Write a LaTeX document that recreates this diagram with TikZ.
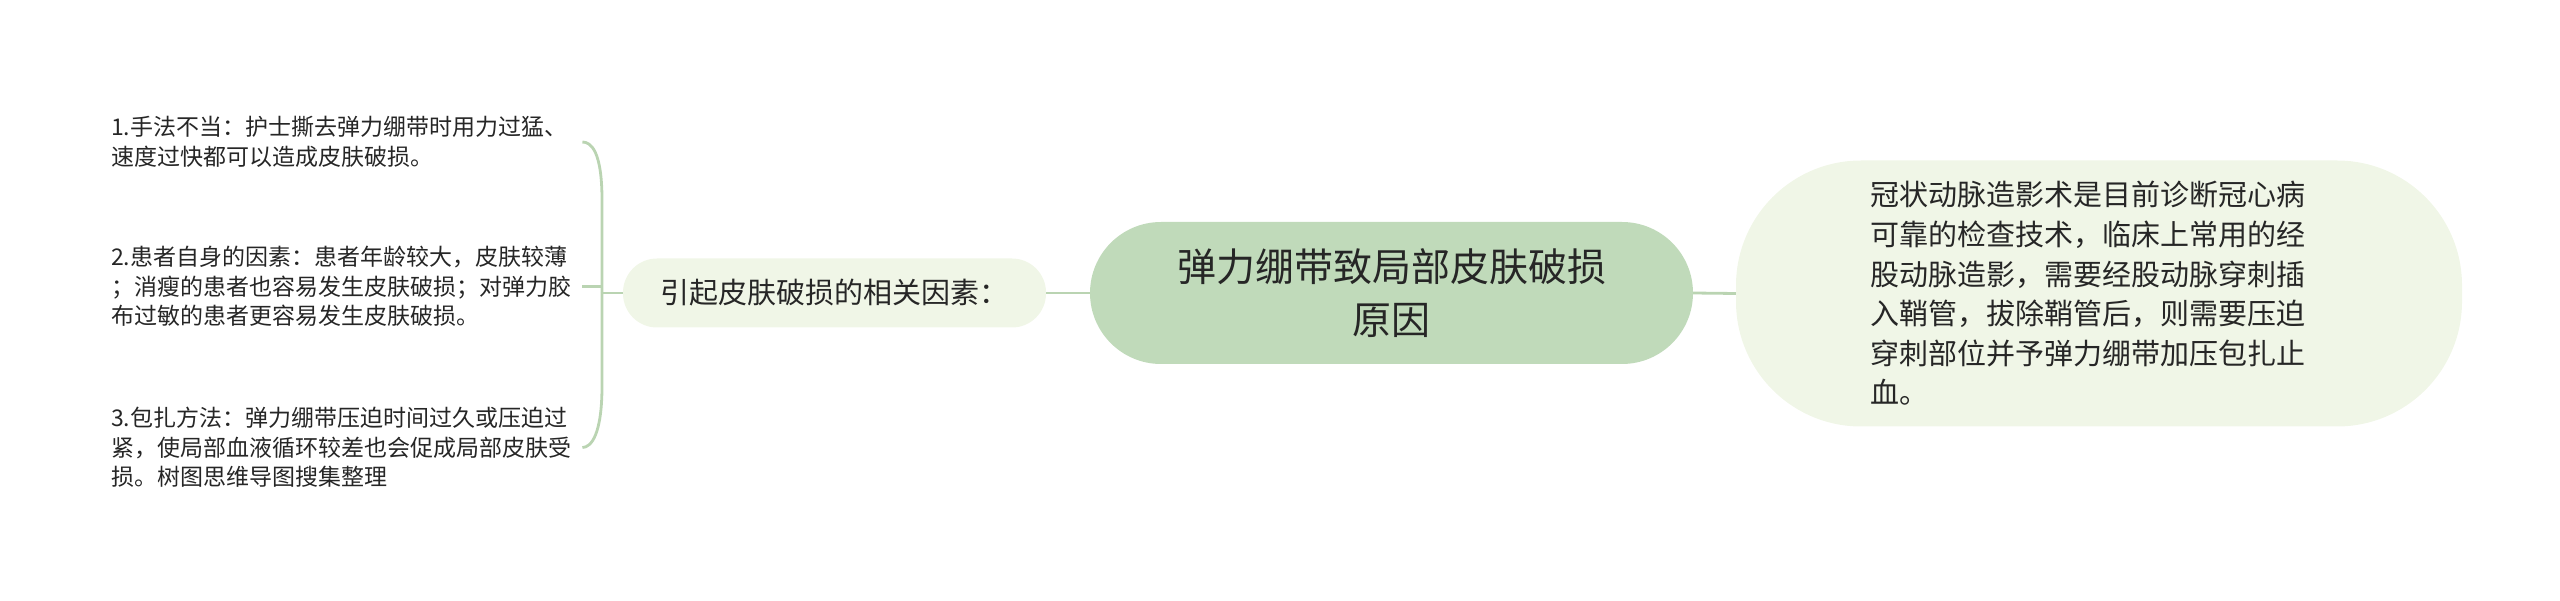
\documentclass[tikz,border=0pt]{standalone}
\usepackage{fontspec}
\setmainfont{Noto Sans CJK SC}
\usepackage{tikz}

\begin{document}
\begin{tikzpicture}[x=1pt,y=1pt,yscale=-1,xscale=1,
  branch/.style={draw={rgb, 255:red, 186; green, 212; blue, 178 }, line width=2.8pt},
  topic/.style={fill={rgb, 255:red, 192; green, 218; blue, 186 }, rounded corners=71pt, minimum width=603pt, minimum height=142pt, inner sep=0pt, align=center, text={rgb, 255:red, 38; green, 38; blue, 38 }, font=\fontsize{39}{53}\selectfont},
  subtopic/.style={fill={rgb, 255:red, 240; green, 246; blue, 231 }, inner sep=0pt, text={rgb, 255:red, 38; green, 38; blue, 38 }, font=\fontsize{29}{39.6}\selectfont},
  leaf/.style={anchor=west, inner sep=0pt, text width=471pt, align=left, text={rgb, 255:red, 38; green, 38; blue, 38 }, font=\fontsize{23}{29.5}\selectfont}
]
\useasboundingbox (0,0) rectangle (2560,601);

%Shape: Rounded Rect [id:root] 
\draw (1391.5,293) node [topic] (root) {弹力绷带致局部皮肤破损\\原因};
%Shape: Rounded Rect [id:cause] 
\draw (834.5,293) node [subtopic, rounded corners=34pt, minimum width=423pt, minimum height=69pt] (cause) {引起皮肤破损的相关因素：};
%Shape: Rounded Rect [id:detail] 
\draw (2099,293.5) node [subtopic, rounded corners=125pt, minimum width=726pt, minimum height=266pt, text width=458pt, align=left] (detail) {冠状动脉造影术是目前诊断冠心病\\可靠的检查技术，临床上常用的经\\股动脉造影，需要经股动脉穿刺插\\入鞘管，拔除鞘管后，则需要压迫\\穿刺部位并予弹力绷带加压包扎止\\血。};

% Text Node
\draw (111,142) node [leaf] (item1) {1.手法不当：护士撕去弹力绷带时用力过猛、\\速度过快都可以造成皮肤破损。};
% Text Node
\draw (111,286.5) node [leaf] (item2) {2.患者自身的因素：患者年龄较大，皮肤较薄\\；消瘦的患者也容易发生皮肤破损；对弹力胶\\布过敏的患者更容易发生皮肤破损。};
% Text Node
\draw (111,447.5) node [leaf] (item3) {3.包扎方法：弹力绷带压迫时间过久或压迫过\\紧，使局部血液循环较差也会促成局部皮肤受\\损。树图思维导图搜集整理};

%Straight Lines 
\draw [branch] (root.east) -- (detail.west) ;
\draw [branch] (cause.east) -- (root.west) ;
\coordinate (fork) at (602,293);
\draw [branch] (cause.west) -- (fork) ;
%Curve Lines 
\draw [branch] (fork) -- (fork |- 0,200) .. controls (fork |- 0,152) and ([xshift=9]item1.east) .. (item1.east) ;
\draw [branch] (fork) -- (fork |- 0,386) .. controls (fork |- 0,434) and ([xshift=9]item3.east) .. (item3.east) ;
\draw [branch] (fork |- item2.east) -- (item2.east) ;

\end{tikzpicture}
\end{document}
